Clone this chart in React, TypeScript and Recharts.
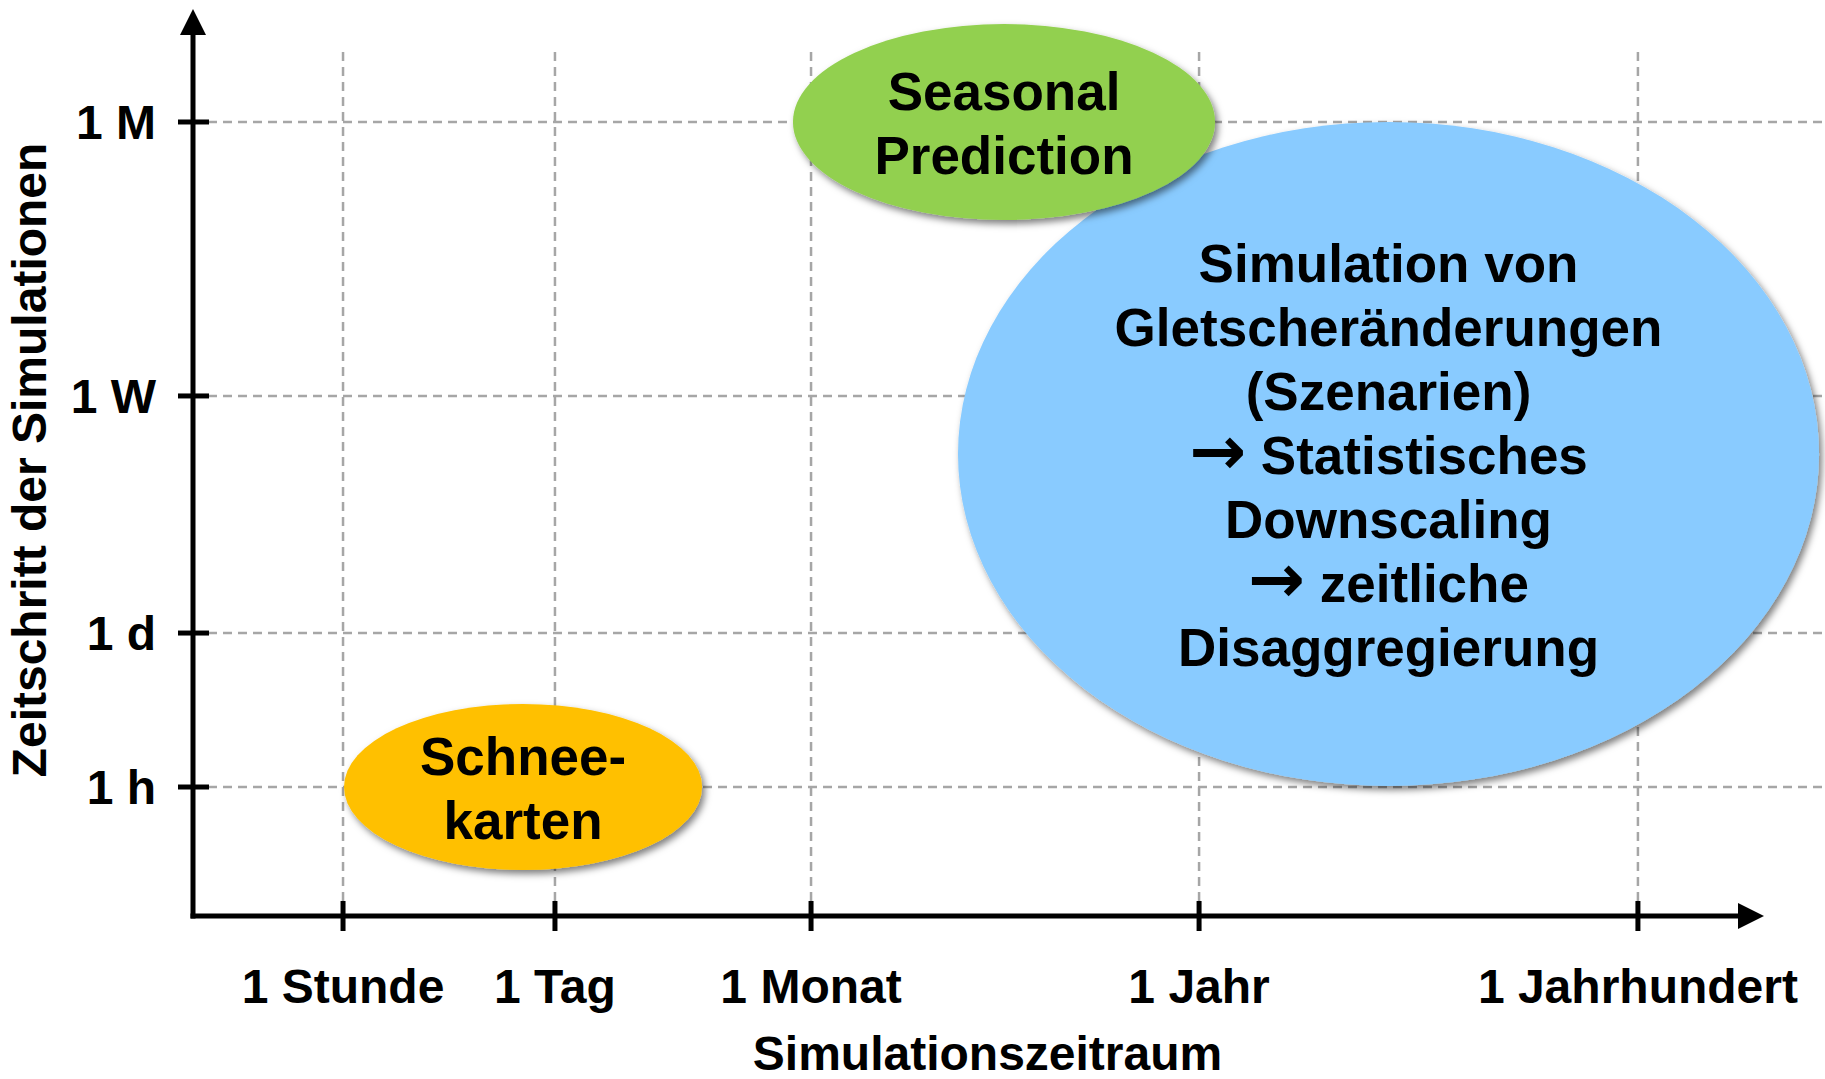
import React from 'react';
import {
  ScatterChart,
  XAxis,
  YAxis,
  CartesianGrid,
  ReferenceArea,
  ReferenceLine,
} from 'recharts';

// ---------- data ----------
const xTickValues = [9.21, 22.22, 37.94, 61.76, 88.7];
const xTickLabels = ['1 Stunde', '1 Tag', '1 Monat', '1 Jahr', '1 Jahrhundert'];

const yTickValues = [14.93, 32.75, 60.19, 91.9];
const yTickLabels = ['1 h', '1 d', '1 W', '1 M'];

const xAxisTitle = 'Simulationszeitraum';
const yAxisTitle = 'Zeitschritt der Simulationen';

// axis extents (arrow tips), in axis units
const xAxisEnd = 96.44;
const yAxisEnd = 104.98;

// regions (ellipses): text lines and extents in axis units
const regionTexts = [
  [
    'Simulation von',
    'Gletscheränderungen',
    '(Szenarien)',
    '→ Statistisches',
    'Downscaling',
    '→ zeitliche',
    'Disaggregierung',
  ],
  ['Seasonal', 'Prediction'],
  ['Schnee-', 'karten'],
];
const regionX1 = [46.96, 36.83, 9.27];
const regionX2 = [99.82, 62.74, 31.25];
const regionY1 = [15.05, 80.56, 5.32];
const regionY2 = [91.9, 103.24, 24.54];

// ---------- styles ----------
const FONT = '"Liberation Sans", Arial, Helvetica, sans-serif';
const ARROW_FONT = '"DejaVu Sans", "Liberation Sans", sans-serif';
const regionColors = ['#89CBFF', '#92D050', '#FFC000'];
const GRID = '#A6A6A6';
const AXIS_FS = 48;

const ArrowLine = (props: any) => {
  const { x1, y1, x2, y2 } = props;
  const dx = x2 - x1;
  const dy = y2 - y1;
  const len = Math.hypot(dx, dy) || 1;
  const ux = dx / len;
  const uy = dy / len;
  const head = 26;
  const half = 13;
  const bx = x2 - ux * head;
  const by = y2 - uy * head;
  const px = -uy;
  const py = ux;
  return (
    <g>
      <line
        x1={x1 - ux * 2.5}
        y1={y1 - uy * 2.5}
        x2={bx + ux}
        y2={by + uy}
        stroke="#000"
        strokeWidth={5}
      />
      <polygon
        points={`${x2},${y2} ${bx + px * half},${by + py * half} ${bx - px * half},${by - py * half}`}
        fill="#000"
      />
    </g>
  );
};

const renderLine = (line: string) => {
  if (line.startsWith('→')) {
    return [
      <tspan key="a" fontFamily={ARROW_FONT} fontWeight="bold" fontSize={68}>
        →
      </tspan>,
      <tspan key="b">{line.slice(1)}</tspan>,
    ];
  }
  return line;
};

const makeEllipse = (idx: number) => (props: any) => {
  const { x, y, width, height } = props;
  const cx = x + width / 2;
  const cy = y + height / 2;
  const lines = regionTexts[idx];
  const lh = 64;
  const n = lines.length;
  const fid = `shadow-${idx}`;
  return (
    <g>
      <defs>
        <filter id={fid} x="-10%" y="-10%" width="125%" height="125%">
          <feDropShadow dx={3} dy={4} stdDeviation={3.5} floodColor="#000" floodOpacity={0.5} />
        </filter>
      </defs>
      <ellipse
        cx={cx}
        cy={cy}
        rx={width / 2}
        ry={height / 2}
        fill={regionColors[idx]}
        filter={`url(#${fid})`}
      />
      {lines.map((l, i) => (
        <text
          key={i}
          x={cx}
          y={cy + (i - (n - 1) / 2) * lh + 20}
          textAnchor="middle"
          fontFamily={FONT}
          fontWeight="bold"
          fontSize={53}
          fill="#000"
        >
          {renderLine(l)}
        </text>
      ))}
    </g>
  );
};

const XTick = (props: any) => {
  const { x, y, payload } = props;
  const i = xTickValues.indexOf(payload.value);
  return (
    <g>
      <line x1={x} x2={x} y1={y - 15} y2={y + 15} stroke="#000" strokeWidth={5} />
      <text
        x={x}
        y={y + 87}
        textAnchor="middle"
        fontFamily={FONT}
        fontWeight="bold"
        fontSize={AXIS_FS}
        fill="#000"
      >
        {i >= 0 ? xTickLabels[i] : ''}
      </text>
    </g>
  );
};

const YTick = (props: any) => {
  const { x, y, payload } = props;
  const i = yTickValues.indexOf(payload.value);
  return (
    <g>
      <line x1={x - 15} x2={x + 16} y1={y} y2={y} stroke="#000" strokeWidth={5} />
      <text
        x={x - 37}
        y={y + 17}
        textAnchor="end"
        fontFamily={FONT}
        fontWeight="bold"
        fontSize={AXIS_FS}
        fill="#000"
      >
        {i >= 0 ? yTickLabels[i] : ''}
      </text>
    </g>
  );
};

const XTitle = (props: any) => {
  const vb = props.viewBox || { x: 193, y: 916, width: 1629, height: 163 };
  return (
    <text
      x={vb.x + vb.width / 2 - 20}
      y={vb.y + 154}
      textAnchor="middle"
      fontFamily={FONT}
      fontWeight="bold"
      fontSize={AXIS_FS}
      fill="#000"
    >
      {xAxisTitle}
    </text>
  );
};

const YTitle = (props: any) => {
  const vb = props.viewBox || { x: 0, y: 52, width: 193, height: 864 };
  const tx = vb.x + 46;
  const ty = vb.y + vb.height / 2 - 24;
  return (
    <text
      x={tx}
      y={ty}
      transform={`rotate(-90, ${tx}, ${ty})`}
      textAnchor="middle"
      fontFamily={FONT}
      fontWeight="bold"
      fontSize={AXIS_FS}
      fill="#000"
    >
      {yAxisTitle}
    </text>
  );
};

export default function App() {
  return (
    <div style={{ position: 'absolute', left: 0, top: 0, width: 1825, height: 1079, background: '#fff' }}>
      <ScatterChart
        width={1825}
        height={1079}
        margin={{ top: 52, right: 3, bottom: 0, left: 0 }}
      >
        <CartesianGrid
          stroke={GRID}
          strokeWidth={2.5}
          strokeDasharray="9 6"
          horizontal
          vertical
          syncWithTicks
        />
        <XAxis
          type="number"
          dataKey="x"
          domain={[0, 100]}
          allowDataOverflow
          ticks={xTickValues}
          interval={0}
          height={163}
          axisLine={false}
          tickLine={false}
          tickSize={0}
          tickMargin={0}
          tick={<XTick />}
          label={XTitle}
        />
        <YAxis
          type="number"
          dataKey="y"
          domain={[0, 100]}
          allowDataOverflow
          ticks={yTickValues}
          interval={0}
          width={193}
          axisLine={false}
          tickLine={false}
          tickSize={0}
          tickMargin={0}
          tick={<YTick />}
          label={YTitle}
        />
        {regionTexts.map((_, i) => (
          <ReferenceArea
            key={i}
            x1={regionX1[i]}
            x2={regionX2[i]}
            y1={regionY1[i]}
            y2={regionY2[i]}
            ifOverflow="visible"
            shape={makeEllipse(i)}
          />
        ))}
        <ReferenceLine
          segment={[
            { x: 0, y: 0 },
            { x: xAxisEnd, y: 0 },
          ]}
          ifOverflow="visible"
          shape={ArrowLine}
        />
        <ReferenceLine
          segment={[
            { x: 0, y: 0 },
            { x: 0, y: yAxisEnd },
          ]}
          ifOverflow="visible"
          shape={ArrowLine}
        />
      </ScatterChart>
    </div>
  );
}
